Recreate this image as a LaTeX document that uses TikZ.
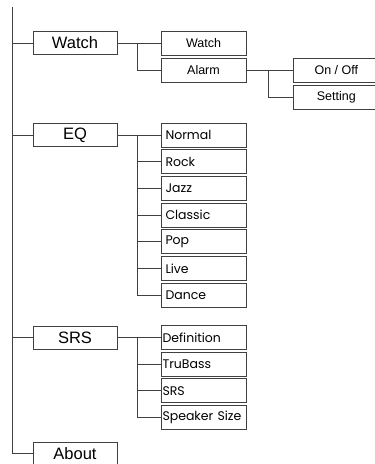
\documentclass[tikz,border=0pt]{standalone}
\usepackage{fontspec}
\setmainfont{Liberation Sans}
\newfontfamily\geofont{Poppins}
\usetikzlibrary{positioning}

\begin{document}
\begin{tikzpicture}[x=1pt,y=1pt,
    line width=0.8pt,draw=black!75,
    mainbox/.style={draw,minimum width=84pt,minimum height=23pt,
      inner sep=0pt,font=\fontsize{16.5}{16.5}\selectfont},
    subbox/.style={draw,minimum width=85pt,minimum height=24pt,
      inner sep=0pt,font=\fontsize{12.5}{12.5}\selectfont},
    itembox/.style={draw,text width=76pt,minimum height=24pt,
      inner xsep=4.5pt,inner ysep=0pt,align=left,
      font=\geofont\fontsize{12.5}{12.5}\selectfont},
    srsbox/.style={itembox,text width=82pt,inner xsep=1.5pt}]
  \useasboundingbox (0,0) rectangle (375,-464);

  \coordinate (root) at (12.7,-7);
  \node[mainbox] (watch) at (75,-43) {Watch};
  \node[mainbox] (eq) at (75,-135) {EQ};
  \node[mainbox] (srs) at (75,-337.5) {SRS};
  \node[mainbox] (about) at (75,-453.5) {About};

  % watch menu
  \node[subbox] (clock) at (203.5,-43) {Watch};
  \node[subbox,below=2.2pt of clock] (alarm) {Alarm};
  \node[subbox,right=47pt of alarm] (onoff) {On / Off};
  \node[subbox,below=2.2pt of onoff] (setting) {Setting};

  % eq menu
  \node[itembox] (normal) at (203.5,-135) {Normal};
  \node[itembox,below=1.9pt of normal] (rock) {Rock};
  \node[itembox,below=1.9pt of rock] (jazz) {Jazz};
  \node[itembox,below=1.9pt of jazz] (classic) {Classic};
  \node[itembox,below=1.9pt of classic] (pop) {Pop};
  \node[itembox,below=1.9pt of pop] (live) {Live};
  \node[itembox,below=1.9pt of live] (dance) {Dance};

  % srs menu
  \node[srsbox] (definition) at (203.5,-337.5) {Definition};
  \node[srsbox,below=1.8pt of definition] (trubass) {TruBass};
  \node[srsbox,below=1.8pt of trubass] (srsitem) {SRS};
  \node[srsbox,below=1.8pt of srsitem] (speaker) {Speaker Size};

  \draw (root) |- (about.west);
  \foreach \n in {watch,eq,srs}
    \draw (root) |- (\n.west);

  \draw (watch.east) -- (clock.west);
  \draw ([xshift=20pt]watch.east) |- (alarm.west);
  \draw (alarm.east) -- (onoff.west);
  \draw ([xshift=22pt]alarm.east) |- (setting.west);

  \draw (eq.east) -- (normal.west);
  \foreach \n in {rock,jazz,classic,pop,live,dance}
    \draw ([xshift=20pt]eq.east) |- (\n.west);

  \draw (srs.east) -- (definition.west);
  \foreach \n in {trubass,srsitem,speaker}
    \draw ([xshift=20pt]srs.east) |- (\n.west);
\end{tikzpicture}
\end{document}
